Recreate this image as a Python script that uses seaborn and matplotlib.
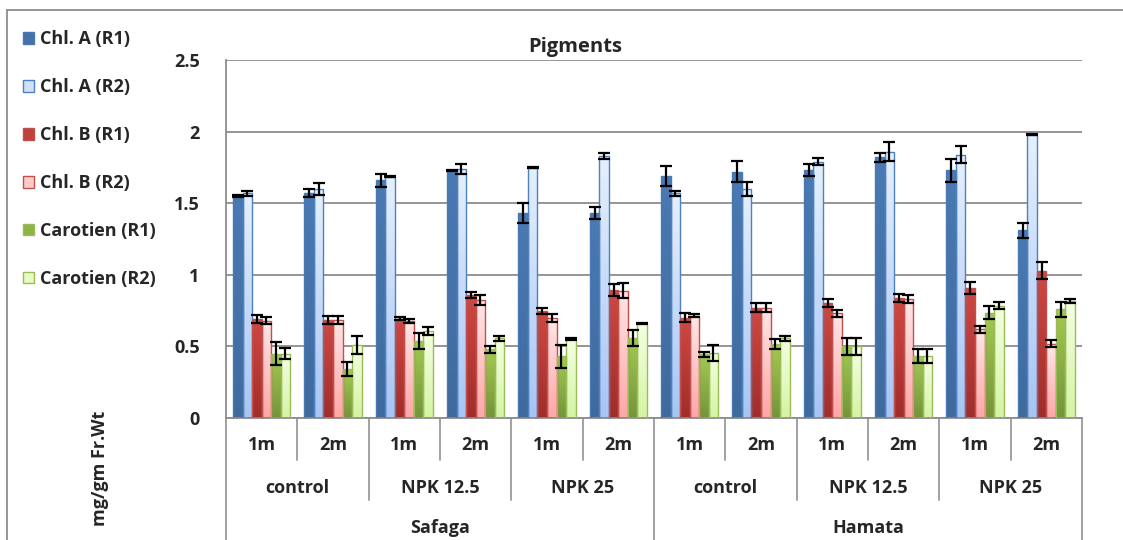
import numpy as np
import pandas as pd
import seaborn as sns
import matplotlib.pyplot as plt
from matplotlib.patches import Patch
from matplotlib.lines import Line2D
import matplotlib.colors as mcolors

sns.set_style('white')
plt.rcParams['font.family'] = ['Open Sans', 'DejaVu Sans']
plt.rcParams['font.weight'] = 'bold'

# x categories (3 levels)
ages = ["1m", "2m"] * 6
treatments = ["control", "NPK 12.5", "NPK 25"] * 2
sites = ["Safaga", "Hamata"]

series = ["Chl. A (R1)", "Chl. A (R2)", "Chl. B (R1)", "Chl. B (R2)", "Carotien (R1)", "Carotien (R2)"]

chla_r1 = [1.55, 1.57, 1.66, 1.73, 1.43, 1.43, 1.69, 1.72, 1.73, 1.82, 1.73, 1.31]
chla_r2 = [1.57, 1.60, 1.685, 1.74, 1.748, 1.83, 1.57, 1.60, 1.79, 1.86, 1.84, 1.977]
chlb_r1 = [0.69, 0.685, 0.694, 0.86, 0.748, 0.895, 0.70, 0.77, 0.80, 0.84, 0.907, 1.03]
chlb_r2 = [0.68, 0.685, 0.675, 0.825, 0.696, 0.89, 0.713, 0.77, 0.73, 0.83, 0.62, 0.52]
car_r1 = [0.45, 0.34, 0.54, 0.48, 0.43, 0.56, 0.446, 0.516, 0.50, 0.43, 0.736, 0.76]
car_r2 = [0.45, 0.51, 0.607, 0.556, 0.551, 0.661, 0.456, 0.556, 0.50, 0.43, 0.785, 0.818]

chla_r1_err = [0.005, 0.026, 0.047, 0.005, 0.07, 0.04, 0.067, 0.074, 0.043, 0.033, 0.08, 0.05]
chla_r2_err = [0.018, 0.044, 0.004, 0.035, 0.004, 0.02, 0.018, 0.047, 0.026, 0.067, 0.056, 0.004]
chlb_r1_err = [0.03, 0.026, 0.01, 0.023, 0.02, 0.043, 0.033, 0.033, 0.028, 0.027, 0.042, 0.06]
chlb_r2_err = [0.027, 0.026, 0.015, 0.035, 0.027, 0.05, 0.01, 0.033, 0.025, 0.027, 0.023, 0.023]
car_r1_err = [0.08, 0.05, 0.055, 0.025, 0.08, 0.056, 0.018, 0.033, 0.062, 0.049, 0.047, 0.053]
car_r2_err = [0.04, 0.06, 0.03, 0.019, 0.007, 0.005, 0.056, 0.02, 0.062, 0.049, 0.022, 0.014]

values = [chla_r1, chla_r2, chlb_r1, chlb_r2, car_r1, car_r2]
errors = [chla_r1_err, chla_r2_err, chlb_r1_err, chlb_r2_err, car_r1_err, car_r2_err]

# gradient (top, bottom) and edge colours per series
tops = ['#4a7ab4', '#e6f0fd', '#d04842', '#ffe6e6', '#a2ca52', '#f4ffe2']
bottoms = ['#3f6a9e', '#a6c5f5', '#a02d2a', '#ffa6a6', '#74943a', '#d4f4a4']
edges = ['#4a78b0', '#4f81bd', '#c0504d', '#c0504d', '#9bbb59', '#9bbb59']
legend_cols = ['#4672a8', '#cfe0f9', '#c0403c', '#ffcaca', '#8db445', '#e6fac4']

cats = [str(i) for i in range(12)]
rows = []
for s, vals in zip(series, values):
    for c, v in zip(cats, vals):
        rows.append({"cat": c, "series": s, "value": v})
df = pd.DataFrame(rows)

FS = 13

fig = plt.figure(figsize=(11.23, 5.4), dpi=100)
ax = fig.add_axes([226/1123, 1-418/540, 856/1123, 358/540])

sns.barplot(data=df, x="cat", y="value", hue="series", order=cats, hue_order=series,
            errorbar=None, width=0.8, ax=ax, legend=False)

bar_conts = list(ax.containers)
grad = np.linspace(0, 1, 64).reshape(-1, 1)
for i, cont in enumerate(bar_conts):
    cmap = mcolors.LinearSegmentedColormap.from_list('g%d' % i, [bottoms[i], tops[i]])
    for j, p in enumerate(cont.patches):
        x0, w, h = p.get_x(), p.get_width(), p.get_height()
        p.set_facecolor('none')
        p.set_edgecolor(edges[i])
        p.set_linewidth(1.0)
        p.set_zorder(3)
        im = ax.imshow(grad, extent=[x0, x0 + w, 0, h], origin='lower', cmap=cmap,
                       aspect='auto', zorder=2.5)
        im.set_clip_path(p)
        ax.errorbar(x0 + w/2, h, yerr=errors[i][j], fmt='none', ecolor='black',
                    elinewidth=1.6, capsize=4.5, capthick=1.6, zorder=4)

ax.set_xlim(-0.5, 11.5)
ax.set_ylim(0, 2.5)
ax.set_yticks([0, 0.5, 1, 1.5, 2, 2.5])
ax.set_yticklabels(['0', '0.5', '1', '1.5', '2', '2.5'], fontsize=FS, fontweight='bold')
ax.set_xticks([])
ax.set_xlabel('')
ax.set_ylabel('')
ax.yaxis.grid(True, color='#8c8c8c', linewidth=1.3)
ax.set_axisbelow(True)
for s in ['top', 'right']:
    ax.spines[s].set_visible(False)
for s in ['left', 'bottom']:
    ax.spines[s].set_color('#8c8c8c')
    ax.spines[s].set_linewidth(1.3)
ax.tick_params(axis='y', length=6, width=1.3, color='#8c8c8c', direction='out', pad=13)

# multi-level x axis
tr = ax.get_xaxis_transform()
sep_color = '#9a9a9a'
for k in range(13):
    if k % 6 == 0:
        d = -0.345
    elif k % 2 == 0:
        d = -0.229
    else:
        d = -0.117
    ax.plot([k - 0.5, k - 0.5], [0, d], transform=tr, color=sep_color, lw=1.3, clip_on=False)
for k, a in enumerate(ages):
    ax.text(k, -0.075, a, transform=tr, ha='center', va='center', fontsize=FS, fontweight='bold')
for k, t in enumerate(treatments):
    ax.text(2*k + 0.5, -0.196, t, transform=tr, ha='center', va='center', fontsize=FS, fontweight='bold')
for k, s in enumerate(sites):
    ax.text(6*k + 2.5, -0.307, s, transform=tr, ha='center', va='center', fontsize=FS, fontweight='bold')

fig.text(575/1123, 1-47/540, 'Pigments', ha='center', va='center', fontsize=14.5, fontweight='bold')
fig.text(100/1123, 1-468/540, 'mg/gm Fr.Wt', ha='center', va='center', rotation=90,
         fontsize=FS, fontweight='bold')

handles = [Patch(facecolor=legend_cols[i], edgecolor=edges[i], linewidth=1.0) for i in range(6)]
fig.legend(handles, series, loc='upper left', bbox_to_anchor=(16/1123, 1-23/540), frameon=False,
           handlelength=0.6, handleheight=0.6, handletextpad=0.35, labelspacing=1.66,
           prop={'size': FS, 'weight': 'bold'}, borderaxespad=0)

# outer chart border (top and left only visible)
fig.add_artist(Line2D([7/1123, 1], [1-10/540, 1-10/540], color='#8c8c8c', lw=1.3))
fig.add_artist(Line2D([7/1123, 7/1123], [0, 1-10/540], color='#8c8c8c', lw=1.3))

fig.savefig('out.png', dpi=100)
